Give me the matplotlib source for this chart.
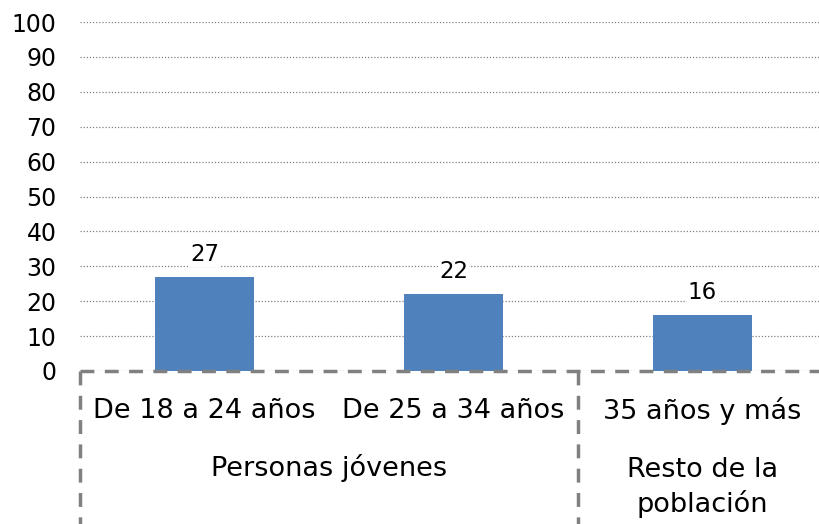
import matplotlib.pyplot as plt
import numpy as np

categorias = ['De 18 a 24 años', 'De 25 a 34 años', '35 años y más']
valores = [27, 22, 16]
grupos = ['Personas jóvenes', 'Resto de la\npoblación']
grupo_tam = [2, 1]
yticks = np.arange(0, 101, 10)

plt.rcParams['font.family'] = ['DejaVu Sans']
fig = plt.figure(figsize=(8.19, 5.24), dpi=100)
W, H = 819, 524
# axes from x=80 to 827 px, y=371 (0) to 22 (100)
ax = fig.add_axes([80 / W, (H - 371) / H, 747 / W, (371 - 22) / H])

x = np.arange(len(categorias))
ax.bar(x, valores, width=0.4, color='#4f81bd', zorder=3)
for xi, v in zip(x, valores):
    ax.annotate(f'{v}', (xi, v), xytext=(0, 8), textcoords='offset points',
                ha='center', va='bottom', fontsize=16.5,
                bbox=dict(facecolor='white', edgecolor='none', pad=1), zorder=4)

ax.set_xlim(-0.5, len(categorias) - 0.5)
ax.set_ylim(0, 100)
ax.set_yticks(yticks)
ax.tick_params(axis='y', length=0, pad=17, labelsize=17)
ax.set_xticks([])
for s in ['top', 'right', 'left', 'bottom']:
    ax.spines[s].set_visible(False)
ax.yaxis.grid(True, linestyle=(0, (1, 1.5)), color='#808080', linewidth=0.9, zorder=0)
ax.axhline(0, color='#808080', linewidth=2.5, linestyle=(0, (4, 3)), zorder=5, clip_on=False)

# category labels and group labels below the axis
trans = ax.get_xaxis_transform()
for xi, c in zip(x, categorias):
    ax.text(xi, -0.115, c, transform=trans, ha='center', va='center', fontsize=19.5)
pos = -0.5
for g, n in zip(grupos, grupo_tam):
    centro = pos + n / 2
    if '\n' in g:
        ax.text(centro, -0.333, g, transform=trans, ha='center', va='center', fontsize=19.5,
                linespacing=1.3)
    else:
        ax.text(centro, -0.278, g, transform=trans, ha='center', va='center', fontsize=19.5)
    ax.plot([pos, pos], [0, -0.45], transform=trans, color='#808080', linewidth=2.5,
            linestyle=(0, (4, 3)), clip_on=False)
    pos += n

fig.savefig('out.png', dpi=100)
